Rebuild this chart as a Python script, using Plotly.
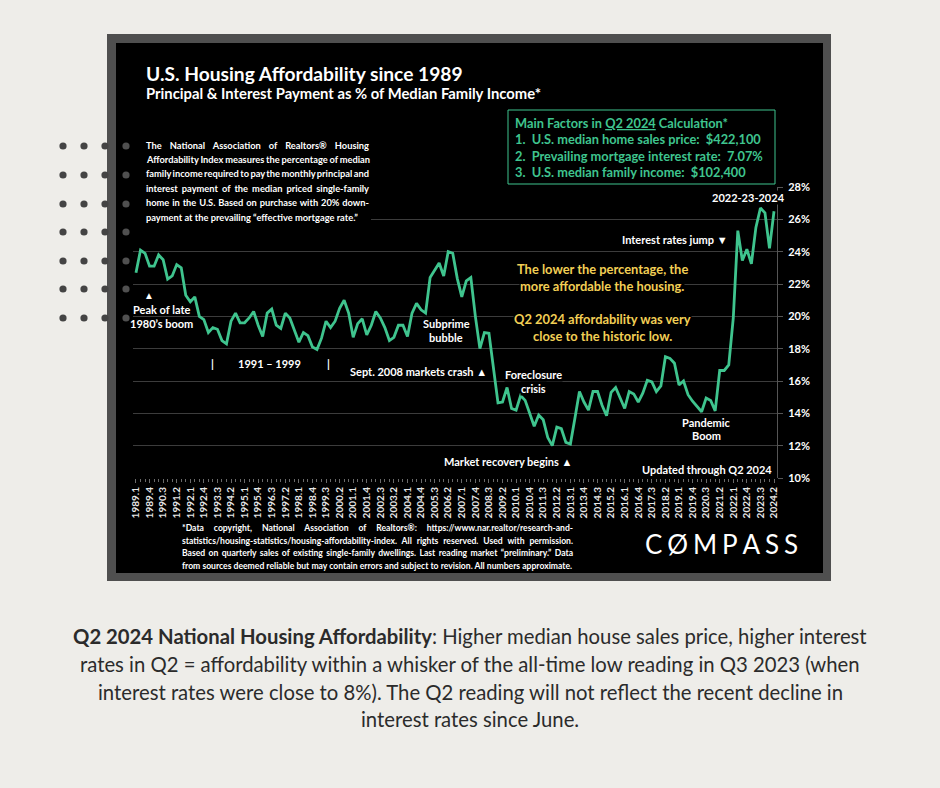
import json
import plotly.graph_objects as go

# ---------------- data ----------------
years = list(range(1989, 2025))
quarter_labels = [f"{y}.{q}" for y in years for q in (1, 2, 3, 4)][:142]

pi_share = [
    22.7, 24.1, 23.9, 23.1, 23.1, 23.8, 23.5, 22.3, 22.5, 23.2,   # 1989.1-1991.2
    23.0, 21.3, 20.9, 21.2, 20.0, 19.8, 19.0, 19.3, 19.2, 18.5,   # 1991.3-1993.4
    18.3, 19.7, 20.2, 19.6, 19.6, 19.9, 20.3, 19.45, 18.75, 20.2, # 1994.1-1996.2
    20.45, 19.45, 19.25, 20.2, 19.9, 19.2, 18.4, 19.0, 18.8, 18.1,# 1996.3-1998.4
    17.95, 18.65, 19.7, 19.3, 19.7, 20.5, 21.0, 20.2, 18.7, 19.55,# 1999.1-2001.2
    19.85, 18.85, 19.45, 20.3, 19.9, 19.3, 18.5, 18.7, 19.45, 19.45, # 2001.3-2003.4
    18.75, 20.2, 20.8, 20.4, 20.2, 22.4, 22.85, 23.3, 22.5, 24.0, # 2004.1-2006.2
    23.9, 22.35, 21.2, 22.2, 22.4, 20.0, 18.0, 19.0, 18.95, 16.8, # 2006.3-2008.4
    14.65, 14.7, 15.6, 14.3, 14.2, 15.1, 14.8, 14.0, 13.2, 13.9,  # 2009.1-2011.2
    13.6, 12.5, 12.0, 13.15, 13.05, 12.2, 12.1, 13.7, 15.35, 14.7,# 2011.3-2013.4
    14.2, 15.35, 15.35, 14.5, 13.85, 15.3, 15.6, 14.95, 14.3, 15.35, # 2014.1-2016.2
    15.2, 14.7, 15.25, 16.05, 15.95, 15.35, 15.7, 17.5, 17.4, 17.1, # 2016.3-2018.4
    15.75, 16.0, 15.15, 14.75, 14.45, 14.1, 14.95, 14.8, 14.15, 16.65, # 2019.1-2021.2
    16.65, 17.0, 19.9, 25.3, 23.45, 24.15, 23.25, 25.5, 26.7, 26.4, # 2021.3-2023.4
    24.2, 26.5,                                                    # 2024.1-2024.2
]
x_index = list(range(len(pi_share)))
tick_positions = x_index[::3]
tick_text = quarter_labels[::3]
y_ticks = [10, 12, 14, 16, 18, 20, 22, 24, 26, 28]
y_tick_text = [f"{v}%" for v in y_ticks]

# ---------------- geometry helpers (pixel -> paper) ----------------
W, H = 940, 788
L, R, T, B = 133, 777, 187, 478


def px(x):
    return (x - L) / (R - L)


def py(y):
    return (B - y) / (B - T)


FONT = "Lato"
GREEN = "#3fc48e"
YELLOW = "#f2cf55"
BG = "#eeede9"

fig = go.Figure()
fig.add_trace(go.Scatter(
    x=x_index, y=pi_share, mode="lines",
    line=dict(color=GREEN, width=2.8), hoverinfo="skip", showlegend=False,
))

shapes = []
# frame and black panel
shapes.append(dict(type="rect", xref="paper", yref="paper", x0=px(107), x1=px(831),
                   y0=py(581), y1=py(34), fillcolor="#4f4f4f", line=dict(width=0), layer="below"))
shapes.append(dict(type="rect", xref="paper", yref="paper", x0=px(116), x1=px(823),
                   y0=py(573), y1=py(43), fillcolor="#000000", line=dict(width=0), layer="below"))
# black cover behind description paragraph
shapes.append(dict(type="rect", xref="paper", yref="paper", x0=px(131), x1=px(371),
                   y0=py(224), y1=py(132), fillcolor="#000000", line=dict(width=0), layer="above"))
# main factors box
shapes.append(dict(type="rect", xref="paper", yref="paper", x0=px(508), x1=px(775),
                   y0=py(184), y1=py(110), fillcolor="#000000",
                   line=dict(width=1, color=GREEN), layer="above"))
# decorative dots on the left
for yy in [146, 175, 204, 232, 261, 289, 318]:
    for xx in [63, 84, 105, 126]:
        shapes.append(dict(type="circle", xref="paper", yref="paper",
                           x0=px(xx - 3.6), x1=px(xx + 3.6), y0=py(yy + 3.6), y1=py(yy - 3.6),
                           fillcolor="#444444" if xx < 116 else "#505050",
                           line=dict(width=0), layer="above"))

annotations = []
justify = []  # (annotation index, target width in px)


def ann(text, x, y, size, color="white", xanchor="center", yanchor="middle", bg=None,
        family=FONT, align="center", weight=None):
    font = dict(size=size, color=color, family=family)
    if weight:
        font["weight"] = weight
    d = dict(text=text, x=px(x), y=py(y), xref="paper", yref="paper", showarrow=False,
             xanchor=xanchor, yanchor=yanchor, borderpad=0, align=align, font=font)
    if bg:
        d["bgcolor"] = bg
    annotations.append(d)
    return len(annotations) - 1


# titles
ann("<b>U.S. Housing Affordability since 1989</b>", 145, 73, 19.2, xanchor="left")
ann("<b>Principal &amp; Interest Payment as % of Median Family Income*</b>", 145, 93, 14.8, xanchor="left")

# main factors box
box_lines = [
    "<b>Main Factors in <u>Q2 2024</u> Calculation*</b>",
    "<b>1.\u00a0 U.S. median home sales price:\u00a0 $422,100</b>",
    "<b>2.\u00a0 Prevailing mortgage interest rate:\u00a0 7.07%</b>",
    "<b>3.\u00a0 U.S. median family income:\u00a0 $102,400</b>",
]
for i, t in enumerate(box_lines):
    ann(t, 514, 123 + i * 16.4, 12.8, color=GREEN, xanchor="left")

# description paragraph (justified)
desc = [
    "The National Association of Realtors® Housing",
    "Affordability Index measures the percentage of median",
    "family income required to pay the monthly principal and",
    "interest payment of the median priced single-family",
    "home in the U.S. Based on purchase with 20% down-",
    "payment at the prevailing “effective mortgage rate.”",
]
for i, t in enumerate(desc):
    k = ann("<b>" + t + "</b>", 145, 145 + i * 14.4, 9.3, xanchor="left", align="left")
    if i < len(desc) - 1:
        justify.append((k, 223))

# chart callouts
ann("<b>▲</b>", 149, 295, 10)
ann("<b>Peak of late</b>", 161, 309, 11)
ann("<b>1980’s boom</b>", 161, 323, 11)
ann("<b>|</b>", 212, 363, 11)
ann("<b>1991 – 1999</b>", 269, 363, 11)
ann("<b>|</b>", 328, 363, 11)
ann("<b>Subprime</b>", 446, 323, 11, bg="#000000")
ann("<b>bubble</b>", 446, 337, 11, bg="#000000")
ann("<b>Sept. 2008 markets crash ▲</b>", 488, 371, 11, xanchor="right", bg="#000000")
ann("<b>Foreclosure</b>", 533, 374, 11, bg="#000000")
ann("<b>crisis</b>", 533, 388, 11, bg="#000000")
ann("<b>Market recovery begins ▲</b>", 573, 461, 11, xanchor="right", bg="#000000")
ann("<b>Pandemic</b>", 706, 422, 11, bg="#000000")
ann("<b>Boom</b>", 706, 435, 11, bg="#000000")
ann("<b>Updated through Q2 2024</b>", 707, 469, 11, bg="#000000")
ann("<b>Interest rates jump ▼</b>", 729, 239, 11, xanchor="right", bg="#000000")
ann("<b>2022-23-2024</b>", 748, 197, 11, bg="#000000")

# yellow message
ann("<b>The lower the percentage, the</b>", 602, 269, 12.9, color=YELLOW, bg="#000000")
ann("<b>more affordable the housing.</b>", 602, 286, 12.9, color=YELLOW, bg="#000000")
ann("<b>Q2 2024 affordability was very</b>", 602, 319, 12.9, color=YELLOW, bg="#000000")
ann("<b>close to the historic low.</b>", 602, 336, 12.9, color=YELLOW, bg="#000000")

# footnote (justified)
foot = [
    "*Data copyright, National Association of Realtors®: https://www.nar.realtor/research-and-",
    "statistics/housing-statistics/housing-affordability-index. All rights reserved. Used with permission.",
    "Based on quarterly sales of existing single-family dwellings. Last reading market “preliminary.” Data",
    "from sources deemed reliable but may contain errors and subject to revision. All numbers approximate.",
]
for i, t in enumerate(foot):
    k = ann("<b>" + t + "</b>", 181, 528 + i * 12.6, 8.6, xanchor="left", align="left")
    if i < len(foot) - 1:
        justify.append((k, 391))

# COMPASS logo
gap = "\u2009\u200a"
ann(gap.join(["C", "\u00d8", "M", "P", "A", "S", "S"]), 721, 544, 26)

# caption below panel
cap = [
    "<b>Q2 2024 National Housing Affordability</b>: Higher median house sales price, higher interest",
    "rates in Q2 = affordability within a whisker of the all-time low reading in Q3 2023 (when",
    "interest rates were close to 8%). The Q2 reading will not reflect the recent decline in",
    "interest rates since June.",
]
for i, t in enumerate(cap):
    ann(t, 470, 636 + i * 27.8, 20.3, color="#2b2b2b")

fig.update_layout(
    width=W, height=H, autosize=False,
    margin=dict(l=L, r=W - R, t=T, b=H - B, pad=0),
    paper_bgcolor=BG, plot_bgcolor="rgba(0,0,0,0)",
    showlegend=False, hovermode=False,
    font=dict(family=FONT, color="white"),
    shapes=shapes, annotations=annotations,
    xaxis=dict(
        range=[-0.66, 141.66], tickmode="array", tickvals=tick_positions, ticktext=tick_text,
        tickangle=-90, tickfont=dict(family=FONT, size=10, color="#e8e8e8", weight="bold"),
        showgrid=False, zeroline=False, showline=False,
        ticks="outside", ticklen=4, tickcolor="#6a6a6a", tickwidth=1,
        minor=dict(tickmode="linear", tick0=0, dtick=1, ticks="outside", ticklen=3,
                   tickcolor="#6a6a6a", tickwidth=1),
        fixedrange=True,
    ),
    yaxis=dict(
        range=[10, 28], side="right", tickmode="array", tickvals=y_ticks, ticktext=y_tick_text,
        tickfont=dict(family=FONT, size=11, color="white", weight="bold"),
        showgrid=True, gridcolor="#3c3c3c", gridwidth=1, zeroline=False,
        showline=True, linecolor="#555555", linewidth=1,
        ticks="outside", ticklen=5, tickcolor="#555555", ticklabelstandoff=3,
        fixedrange=True,
    ),
)

js = """
document.body.style.margin='0';
document.body.style.background='%s';
var just = %s;
just.forEach(function(p){
  var g = document.querySelector('g.annotation[data-index="' + p[0] + '"]');
  if (!g) return;
  var t = g.querySelector('text.annotation-text');
  if (!t) return;
  var cur = t.getComputedTextLength();
  var n = (t.textContent.match(/[ \\u00a0]/g) || []).length;
  if (n > 0) { t.style.wordSpacing = ((p[1] - cur) / n) + 'px'; }
});
""" % (BG, json.dumps(justify))

fig.write_html("out.html", config={"displayModeBar": False, "staticPlot": True}, post_script=js)
